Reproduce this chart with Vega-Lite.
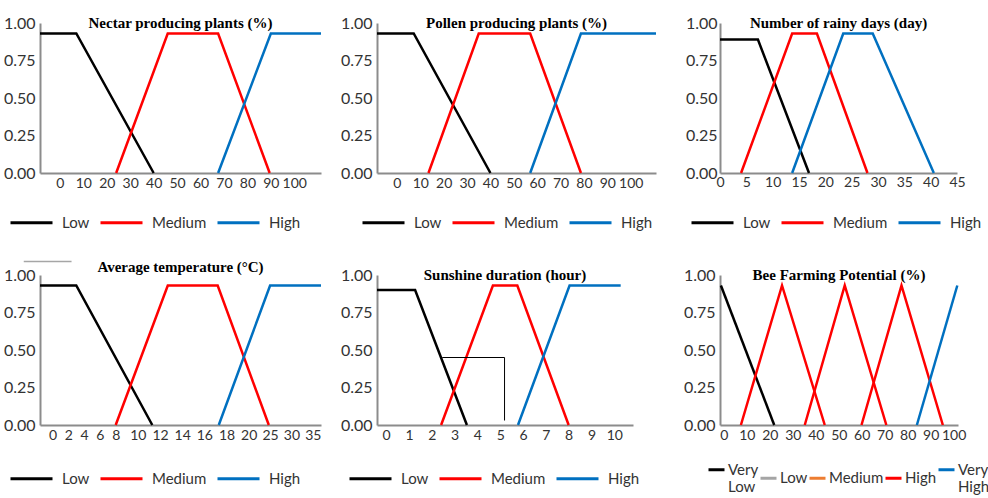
{
  "$schema": "https://vega.github.io/schema/vega-lite/v6.json",
  "padding": {"left": 3, "top": 15, "right": 0, "bottom": 0},
  "config": {
    "view": {"stroke": null},
    "font": "Lato",
    "axis": {"domainColor": "#8c8c8c", "domainWidth": 2, "ticks": false, "grid": false, "labelFont": "Lato", "labelColor": "#333333", "title": null, "labelFlush": false, "labelOverlap": false},
    "axisX": {"labelFontSize": 14, "labelPadding": 3},
    "axisY": {"labelFontSize": 16, "labelPadding": 5},
    "title": {"font": "Liberation Serif", "fontSize": 15, "fontWeight": "bold", "color": "#000000", "offset": -16, "anchor": "middle"},
    "legend": {"orient": "none", "direction": "horizontal", "title": null, "labelFont": "Lato", "labelFontSize": 15, "labelColor": "#333333", "symbolType": "stroke", "symbolStrokeWidth": 3, "symbolSize": 1764, "labelOffset": 8, "columnPadding": 4}
  },
  "data": {"values": [
    {"p": "nectar", "s": "Low", "g": "Low", "o": 0, "x": -8.5, "y": 0.93},
    {"p": "nectar", "s": "Low", "g": "Low", "o": 1, "x": 7, "y": 0.93},
    {"p": "nectar", "s": "Low", "g": "Low", "o": 2, "x": 40, "y": 0},
    {"p": "nectar", "s": "Medium", "g": "Medium", "o": 0, "x": 24, "y": 0},
    {"p": "nectar", "s": "Medium", "g": "Medium", "o": 1, "x": 46, "y": 0.93},
    {"p": "nectar", "s": "Medium", "g": "Medium", "o": 2, "x": 67.5, "y": 0.93},
    {"p": "nectar", "s": "Medium", "g": "Medium", "o": 3, "x": 89.5, "y": 0},
    {"p": "nectar", "s": "High", "g": "High", "o": 0, "x": 67.5, "y": 0},
    {"p": "nectar", "s": "High", "g": "High", "o": 1, "x": 90, "y": 0.93},
    {"p": "nectar", "s": "High", "g": "High", "o": 2, "x": 111.4, "y": 0.93},

    {"p": "pollen", "s": "Low", "g": "Low", "o": 0, "x": -8.5, "y": 0.93},
    {"p": "pollen", "s": "Low", "g": "Low", "o": 1, "x": 7.2, "y": 0.93},
    {"p": "pollen", "s": "Low", "g": "Low", "o": 2, "x": 40, "y": 0},
    {"p": "pollen", "s": "Medium", "g": "Medium", "o": 0, "x": 13.5, "y": 0},
    {"p": "pollen", "s": "Medium", "g": "Medium", "o": 1, "x": 35, "y": 0.93},
    {"p": "pollen", "s": "Medium", "g": "Medium", "o": 2, "x": 57, "y": 0.93},
    {"p": "pollen", "s": "Medium", "g": "Medium", "o": 3, "x": 78.7, "y": 0},
    {"p": "pollen", "s": "High", "g": "High", "o": 0, "x": 57, "y": 0},
    {"p": "pollen", "s": "High", "g": "High", "o": 1, "x": 78.7, "y": 0.93},
    {"p": "pollen", "s": "High", "g": "High", "o": 2, "x": 110.8, "y": 0.93},

    {"p": "rainy", "s": "Low", "g": "Low", "o": 0, "x": 0, "y": 0.89},
    {"p": "rainy", "s": "Low", "g": "Low", "o": 1, "x": 7.2, "y": 0.89},
    {"p": "rainy", "s": "Low", "g": "Low", "o": 2, "x": 16.9, "y": 0},
    {"p": "rainy", "s": "Medium", "g": "Medium", "o": 0, "x": 4, "y": 0},
    {"p": "rainy", "s": "Medium", "g": "Medium", "o": 1, "x": 13.7, "y": 0.93},
    {"p": "rainy", "s": "Medium", "g": "Medium", "o": 2, "x": 18.4, "y": 0.93},
    {"p": "rainy", "s": "Medium", "g": "Medium", "o": 3, "x": 28, "y": 0},
    {"p": "rainy", "s": "High", "g": "High", "o": 0, "x": 13.7, "y": 0},
    {"p": "rainy", "s": "High", "g": "High", "o": 1, "x": 23.4, "y": 0.93},
    {"p": "rainy", "s": "High", "g": "High", "o": 2, "x": 29, "y": 0.93},
    {"p": "rainy", "s": "High", "g": "High", "o": 3, "x": 40.6, "y": 0},

    {"p": "temp", "s": "Low", "g": "Low", "o": 0, "x": -1.6, "y": 0.93},
    {"p": "temp", "s": "Low", "g": "Low", "o": 1, "x": 3, "y": 0.93},
    {"p": "temp", "s": "Low", "g": "Low", "o": 2, "x": 11.3, "y": 0},
    {"p": "temp", "s": "Medium", "g": "Medium", "o": 0, "x": 8, "y": 0},
    {"p": "temp", "s": "Medium", "g": "Medium", "o": 1, "x": 12.7, "y": 0.93},
    {"p": "temp", "s": "Medium", "g": "Medium", "o": 2, "x": 17.2, "y": 0.93},
    {"p": "temp", "s": "Medium", "g": "Medium", "o": 3, "x": 24.7, "y": 0},
    {"p": "temp", "s": "High", "g": "High", "o": 0, "x": 17.3, "y": 0},
    {"p": "temp", "s": "High", "g": "High", "o": 1, "x": 25, "y": 0.93},
    {"p": "temp", "s": "High", "g": "High", "o": 2, "x": 36.9, "y": 0.93},
    {"p": "temp_extra", "s": "mark", "g": "mark", "o": 0, "x": -3.66, "y": 1.09},
    {"p": "temp_extra", "s": "mark", "g": "mark", "o": 1, "x": 2.4, "y": 1.09},

    {"p": "sun", "s": "Low", "g": "Low", "o": 0, "x": -0.4, "y": 0.9},
    {"p": "sun", "s": "Low", "g": "Low", "o": 1, "x": 1.27, "y": 0.9},
    {"p": "sun", "s": "Low", "g": "Low", "o": 2, "x": 3.54, "y": 0},
    {"p": "sun", "s": "Medium", "g": "Medium", "o": 0, "x": 2.41, "y": 0},
    {"p": "sun", "s": "Medium", "g": "Medium", "o": 1, "x": 4.68, "y": 0.93},
    {"p": "sun", "s": "Medium", "g": "Medium", "o": 2, "x": 5.75, "y": 0.93},
    {"p": "sun", "s": "Medium", "g": "Medium", "o": 3, "x": 8, "y": 0},
    {"p": "sun", "s": "High", "g": "High", "o": 0, "x": 5.78, "y": 0},
    {"p": "sun", "s": "High", "g": "High", "o": 1, "x": 8.04, "y": 0.93},
    {"p": "sun", "s": "High", "g": "High", "o": 2, "x": 10.28, "y": 0.93},
    {"p": "sun_extra", "s": "bracket", "g": "bracket", "o": 0, "x": 2.46, "y": 0.45},
    {"p": "sun_extra", "s": "bracket", "g": "bracket", "o": 1, "x": 5.19, "y": 0.45},
    {"p": "sun_extra", "s": "bracket", "g": "bracket", "o": 2, "x": 5.19, "y": 0.03},

    {"p": "bee", "s": "Very Low", "g": "VL", "o": 0, "x": -1.3, "y": 0.93},
    {"p": "bee", "s": "Very Low", "g": "VL", "o": 1, "x": 21.9, "y": 0},
    {"p": "bee", "s": "High", "g": "T1", "o": 0, "x": 7.4, "y": 0},
    {"p": "bee", "s": "High", "g": "T1", "o": 1, "x": 25.3, "y": 0.93},
    {"p": "bee", "s": "High", "g": "T1", "o": 2, "x": 43.9, "y": 0},
    {"p": "bee", "s": "High", "g": "T2", "o": 0, "x": 35.2, "y": 0},
    {"p": "bee", "s": "High", "g": "T2", "o": 1, "x": 52.6, "y": 0.93},
    {"p": "bee", "s": "High", "g": "T2", "o": 2, "x": 70.7, "y": 0},
    {"p": "bee", "s": "High", "g": "T3", "o": 0, "x": 59.9, "y": 0},
    {"p": "bee", "s": "High", "g": "T3", "o": 1, "x": 77.3, "y": 0.93},
    {"p": "bee", "s": "High", "g": "T3", "o": 2, "x": 95.3, "y": 0},
    {"p": "bee", "s": "Very High", "g": "VH", "o": 0, "x": 84, "y": 0},
    {"p": "bee", "s": "Very High", "g": "VH", "o": 1, "x": 101.6, "y": 0.93}
  ]},
  "columns": 5,
  "align": "each",
  "bounds": "flush",
  "spacing": {"row": 102, "column": 0},
  "resolve": {"scale": {"x": "independent", "y": "independent", "color": "independent"}, "legend": {"color": "independent"}},
  "concat": [
    {
      "title": "Nectar producing plants (%)",
      "width": 281, "height": 150,
      "transform": [{"filter": "datum.p == 'nectar'"}],
      "mark": {"type": "line", "strokeWidth": 2.5},
      "encoding": {
        "x": {"field": "x", "type": "quantitative", "scale": {"domain": [-8.5, 111.4], "nice": false, "zero": false}, "axis": {"values": [0, 10, 20, 30, 40, 50, 60, 70, 80, 90, 100]}},
        "y": {"field": "y", "type": "quantitative", "scale": {"domain": [0, 1], "nice": false}, "axis": {"values": [0, 0.25, 0.5, 0.75, 1], "format": ".2f"}},
        "color": {"field": "s", "type": "nominal", "scale": {"domain": ["Low", "Medium", "High"], "range": ["#000000", "#FF0000", "#0070C0"]}, "legend": {"orient": "none", "legendX": -31, "legendY": 177}},
        "detail": {"field": "g"},
        "order": {"field": "o", "type": "quantitative"}
      }
    },
    {"width": 56, "height": 150, "data": {"values": []}, "mark": {"type": "point", "opacity": 0}},
    {
      "title": "Pollen producing plants (%)",
      "width": 279, "height": 150,
      "transform": [{"filter": "datum.p == 'pollen'"}],
      "mark": {"type": "line", "strokeWidth": 2.5},
      "encoding": {
        "x": {"field": "x", "type": "quantitative", "scale": {"domain": [-8.5, 110.8], "nice": false, "zero": false}, "axis": {"values": [0, 10, 20, 30, 40, 50, 60, 70, 80, 90, 100]}},
        "y": {"field": "y", "type": "quantitative", "scale": {"domain": [0, 1], "nice": false}, "axis": {"values": [0, 0.25, 0.5, 0.75, 1], "format": ".2f"}},
        "color": {"field": "s", "type": "nominal", "scale": {"domain": ["Low", "Medium", "High"], "range": ["#000000", "#FF0000", "#0070C0"]}, "legend": {"orient": "none", "legendX": -16, "legendY": 177}},
        "detail": {"field": "g"},
        "order": {"field": "o", "type": "quantitative"}
      }
    },
    {"width": 64, "height": 150, "data": {"values": []}, "mark": {"type": "point", "opacity": 0}},
    {
      "title": "Number of rainy days (day)",
      "width": 237, "height": 150,
      "transform": [{"filter": "datum.p == 'rainy'"}],
      "mark": {"type": "line", "strokeWidth": 2.5},
      "encoding": {
        "x": {"field": "x", "type": "quantitative", "scale": {"domain": [0, 45], "nice": false, "zero": false}, "axis": {"values": [0, 5, 10, 15, 20, 25, 30, 35, 40, 45], "labelPadding": 2}},
        "y": {"field": "y", "type": "quantitative", "scale": {"domain": [0, 1], "nice": false}, "axis": {"values": [0, 0.25, 0.5, 0.75, 1], "format": ".2f", "labelPadding": 3}},
        "color": {"field": "s", "type": "nominal", "scale": {"domain": ["Low", "Medium", "High"], "range": ["#000000", "#FF0000", "#0070C0"]}, "legend": {"orient": "none", "legendX": -30, "legendY": 177}},
        "detail": {"field": "g"},
        "order": {"field": "o", "type": "quantitative"}
      }
    },
    {
      "title": "Average temperature (°C)",
      "width": 281, "height": 150,
      "layer": [
        {
          "transform": [{"filter": "datum.p == 'temp'"}],
          "mark": {"type": "line", "strokeWidth": 2.5},
          "encoding": {
            "x": {"field": "x", "type": "quantitative", "scale": {"domain": [-1.6, 8, 20, 36.9], "range": [0, 75.7, 208.7, 281], "nice": false, "zero": false}, "axis": {"values": [0, 2, 4, 6, 8, 10, 12, 14, 16, 18, 20, 25, 30, 35]}},
            "y": {"field": "y", "type": "quantitative", "scale": {"domain": [0, 1], "nice": false}, "axis": {"values": [0, 0.25, 0.5, 0.75, 1], "format": ".2f"}},
            "color": {"field": "s", "type": "nominal", "scale": {"domain": ["Low", "Medium", "High"], "range": ["#000000", "#FF0000", "#0070C0"]}, "legend": {"orient": "none", "legendX": -31, "legendY": 181}},
            "detail": {"field": "g"},
            "order": {"field": "o", "type": "quantitative"}
          }
        },
        {
          "transform": [{"filter": "datum.p == 'temp_extra'"}],
          "mark": {"type": "line", "strokeWidth": 1.5, "color": "#a6a6a6", "clip": false},
          "encoding": {
            "x": {"field": "x", "type": "quantitative", "axis": {"values": [0, 2, 4, 6, 8, 10, 12, 14, 16, 18, 20, 25, 30, 35]}},
            "y": {"field": "y", "type": "quantitative", "axis": {"values": [0, 0.25, 0.5, 0.75, 1], "format": ".2f"}},
            "order": {"field": "o", "type": "quantitative"}
          }
        }
      ]
    },
    {"width": 56, "height": 150, "data": {"values": []}, "mark": {"type": "point", "opacity": 0}},
    {
      "title": "Sunshine duration (hour)",
      "width": 256, "height": 150,
      "layer": [
        {
          "transform": [{"filter": "datum.p == 'sun'"}],
          "mark": {"type": "line", "strokeWidth": 2.5},
          "encoding": {
            "x": {"field": "x", "type": "quantitative", "scale": {"domain": [-0.4, 10.82], "nice": false, "zero": false}, "axis": {"values": [0, 1, 2, 3, 4, 5, 6, 7, 8, 9, 10]}},
            "y": {"field": "y", "type": "quantitative", "scale": {"domain": [0, 1], "nice": false}, "axis": {"values": [0, 0.25, 0.5, 0.75, 1], "format": ".2f"}},
            "color": {"field": "s", "type": "nominal", "scale": {"domain": ["Low", "Medium", "High"], "range": ["#000000", "#FF0000", "#0070C0"]}, "legend": {"orient": "none", "legendX": -29, "legendY": 181}},
            "detail": {"field": "g"},
            "order": {"field": "o", "type": "quantitative"}
          }
        },
        {
          "transform": [{"filter": "datum.p == 'sun_extra'"}],
          "mark": {"type": "line", "strokeWidth": 1, "color": "#000000"},
          "encoding": {
            "x": {"field": "x", "type": "quantitative", "axis": {"values": [0, 1, 2, 3, 4, 5, 6, 7, 8, 9, 10]}},
            "y": {"field": "y", "type": "quantitative", "axis": {"values": [0, 0.25, 0.5, 0.75, 1], "format": ".2f"}},
            "order": {"field": "o", "type": "quantitative"}
          }
        }
      ]
    },
    {"width": 64, "height": 150, "data": {"values": []}, "mark": {"type": "point", "opacity": 0}},
    {
      "title": "Bee Farming Potential (%)",
      "width": 238, "height": 150,
      "transform": [{"filter": "datum.p == 'bee'"}],
      "mark": {"type": "line", "strokeWidth": 2.5},
      "encoding": {
        "x": {"field": "x", "type": "quantitative", "scale": {"domain": [-1.7, 101.9], "nice": false, "zero": false}, "axis": {"values": [0, 10, 20, 30, 40, 50, 60, 70, 80, 90, 100]}},
        "y": {"field": "y", "type": "quantitative", "scale": {"domain": [0, 1], "nice": false}, "axis": {"values": [0, 0.25, 0.5, 0.75, 1], "format": ".2f"}},
        "color": {"field": "s", "type": "nominal", "scale": {"domain": ["Very Low", "Low", "Medium", "High", "Very High"], "range": ["#000000", "#A5A5A5", "#ED7D31", "#FF0000", "#0070C0"]}, "legend": {"orient": "none", "legendX": -13, "legendY": 185, "symbolSize": 256, "labelOffset": 2, "columnPadding": -5, "labelFontSize": 15, "labelExpr": "datum.label == 'Very Low' ? ['Very', 'Low'] : datum.label == 'Very High' ? ['Very', 'High'] : datum.label"}},
        "detail": {"field": "g"},
        "order": {"field": "o", "type": "quantitative"}
      }
    }
  ]
}
